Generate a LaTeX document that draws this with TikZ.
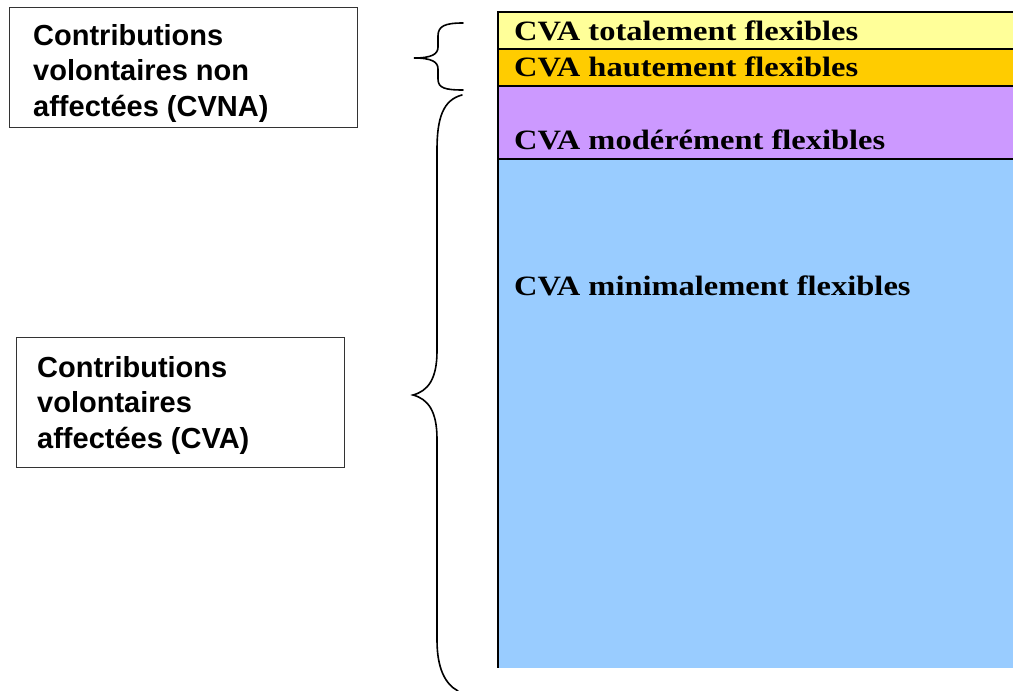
\documentclass[tikz,border=0pt]{standalone}
\usepackage{fontspec}
\newfontfamily\boxfont{Liberation Sans}
\newfontfamily\bandfont[FakeStretch=1.16]{Liberation Serif}
\definecolor{bandyellow}{HTML}{FFFF99}
\definecolor{bandorange}{HTML}{FFCC00}
\definecolor{bandviolet}{HTML}{CC99FF}
\definecolor{bandblue}{HTML}{99CCFF}
\definecolor{boxline}{HTML}{333333}
\tikzset{
  infobox/.style={draw=boxline, line width=1.2pt, fill=white, anchor=north west,
    inner sep=0pt},
  infotext/.style={anchor=north west, align=left, inner sep=0pt,
    font=\boxfont\bfseries\fontsize{29}{35.5}\selectfont},
  bandlabel/.style={anchor=base west, inner sep=0pt,
    font=\bandfont\bfseries\fontsize{28}{30}\selectfont},
  bandrule/.style={line width=2pt, black},
  bracepath/.style={line width=1.6pt, black, line cap=round}
}
\begin{document}
\begin{tikzpicture}[x=1pt,y=-1pt]
\useasboundingbox (0,0) rectangle (1013,691);

% coloured bands
\fill[bandyellow] (498,12) rectangle (1013,49);
\fill[bandorange] (498,49) rectangle (1013,86);
\fill[bandviolet] (498,86) rectangle (1013,159);
\fill[bandblue]   (498,159) rectangle (1013,668);
\draw[bandrule] (498,12) -- (1013,12);
\draw[bandrule] (498,49) -- (1013,49);
\draw[bandrule] (498,86) -- (1013,86);
\draw[bandrule] (498,159) -- (1013,159);
\draw[bandrule] (498,11) -- (498,668);

\node[bandlabel] (totale)  at (514,40.5)  {CVA totalement flexibles};
\node[bandlabel] (haute)   at (514,76.5)  {CVA hautement flexibles};
\node[bandlabel] (moderee) at (514,149.5) {CVA modérément flexibles};
\node[bandlabel] (minimale) at (514,295.5) {CVA minimalement flexibles};

% text boxes
\node[infobox, minimum width=348pt, minimum height=120pt] (cvna) at (9,7) {};
\node[infotext] (cvnatext) at (33,24)
  {Contributions\\volontaires non\\affectées (CVNA)};
\node[infobox, minimum width=328pt, minimum height=130pt] (cva) at (16,337) {};
\node[infotext] (cvatext) at (37,356)
  {Contributions\\volontaires\\affectées (CVA)};

% small brace (CVNA)
\coordinate (sbtop) at (463,23);
\coordinate (sbtip) at (414,58);
\coordinate (sbbot) at (463,90);
\draw[bracepath] (sbtop) .. controls (445,23) and (438,26) .. (438,36)
  -- (438,47) .. controls (438,54) and (432,58) .. (sbtip)
  .. controls (432,58) and (438,62) .. (438,69)
  -- (438,79) .. controls (438,88) and (445,90) .. (sbbot);

% large brace (CVA)
\coordinate (lbtop) at (462,95);
\coordinate (lbtip) at (413,395);
\coordinate (lbbot) at (458,691);
\draw[bracepath] (lbtop) .. controls (443,100) and (437,118) .. (437,150)
  -- (437,351) .. controls (437,379) and (428,391) .. (lbtip)
  .. controls (428,399) and (437,411) .. (437,439)
  -- (437,640) .. controls (437,668) and (445,684) .. (lbbot);
\end{tikzpicture}
\end{document}
